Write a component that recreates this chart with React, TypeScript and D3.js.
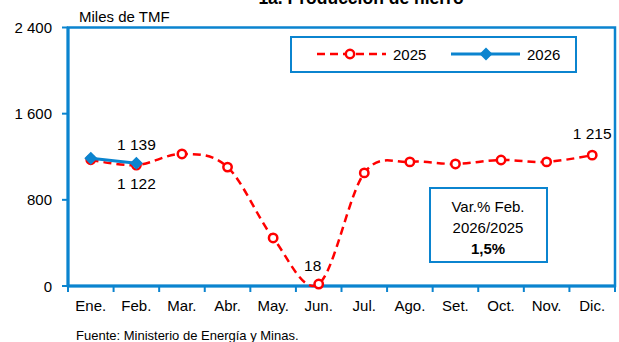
import React from "react";
import * as d3 from "d3";

const months = ["Ene.", "Feb.", "Mar.", "Abr.", "May.", "Jun.", "Jul.", "Ago.", "Set.", "Oct.", "Nov.", "Dic."];
const values2025 = [1172, 1122, 1226, 1104, 446, 18, 1050, 1152, 1133, 1170, 1152, 1215];
const values2026 = [1186, 1139];
const yTicks = [0, 800, 1600, 2400];

const W = 619;
const H = 342;
const BLUE = "#0b84cf";
const RED = "#ff0000";
const FONT = "'Liberation Sans', Arial, sans-serif";

export default function App() {
  const left = 68, right = 615, top = 27.5, bottom = 286;
  const x = d3.scaleBand<string>().domain(months).range([left, right]);
  const y = d3.scaleLinear().domain([0, 2400]).range([bottom, top]);
  const cx = (i: number) => (x(months[i]) as number) + x.bandwidth() / 2;
  const fmt = (v: number) => d3.format(",")(v).replace(/,/g, " ");

  const line = d3
    .line<number>()
    .x((_, i) => cx(i))
    .y((d) => y(d))
    .curve(d3.curveCatmullRom.alpha(0));
  const line26 = d3
    .line<number>()
    .x((_, i) => cx(i))
    .y((d) => y(d));

  const diamond = (px: number, py: number, s: number) =>
    `M${px},${py - s}L${px + s},${py}L${px},${py + s}L${px - s},${py}Z`;

  const boundaries = months.map((m) => x(m) as number).concat([right]);

  return (
    <svg width={W} height={H} style={{ position: "absolute", left: 0, top: 0, fontFamily: FONT }}>
      <rect width={W} height={H} fill="#fff" />
      <text x={361} y={4} textAnchor="middle" fontSize={17.5} fontWeight="bold" fill="#000">
        1a. Producción de hierro
      </text>
      <text x={79} y={22} fontSize={15} fill="#000">Miles de TMF</text>

      {/* plot frame */}
      <rect x={left} y={top} width={right - left} height={bottom - top} fill="none" stroke={BLUE} strokeWidth={2.5} />
      <line x1={left} x2={left} y1={top} y2={bottom} stroke={BLUE} strokeWidth={3} />
      <line x1={left} x2={right} y1={bottom} y2={bottom} stroke={BLUE} strokeWidth={3} />

      {/* y ticks */}
      {yTicks.map((t) => (
        <g key={t}>
          <line x1={62} x2={left} y1={y(t)} y2={y(t)} stroke={BLUE} strokeWidth={2} />
          <text x={52} y={y(t) + 5.5} textAnchor="end" fontSize={15} fill="#000">
            {fmt(t)}
          </text>
        </g>
      ))}

      {/* x ticks */}
      {boundaries.map((b, i) => (
        <line key={i} x1={b} x2={b} y1={bottom} y2={bottom + 6} stroke={BLUE} strokeWidth={2} />
      ))}
      {months.map((m, i) => (
        <text key={m} x={cx(i)} y={311} textAnchor="middle" fontSize={15} fill="#000">
          {m}
        </text>
      ))}

      {/* 2025 series */}
      <path d={line(values2025) || ""} fill="none" stroke={RED} strokeWidth={2.5} strokeDasharray="8,5" />
      {values2025.map((v, i) => (
        <circle key={i} cx={cx(i)} cy={y(v)} r={4.2} fill="#fff" stroke={RED} strokeWidth={2.5} />
      ))}

      {/* 2026 series */}
      <path d={line26(values2026) || ""} fill="none" stroke={BLUE} strokeWidth={3} />
      {values2026.map((v, i) => (
        <path key={i} d={diamond(cx(i), y(v), 6.5)} fill={BLUE} />
      ))}

      {/* data labels */}
      <text x={cx(1)} y={y(values2026[1]) - 13} textAnchor="middle" fontSize={15.5} fill="#000">
        {fmt(values2026[1])}
      </text>
      <text x={cx(1)} y={y(values2025[1]) + 24} textAnchor="middle" fontSize={15.5} fill="#000">
        {fmt(values2025[1])}
      </text>
      <text x={cx(5) - 6} y={y(values2025[5]) - 13} textAnchor="middle" fontSize={15.5} fill="#000">
        {fmt(values2025[5])}
      </text>
      <text x={cx(11)} y={y(values2025[11]) - 16} textAnchor="middle" fontSize={15.5} fill="#000">
        {fmt(values2025[11])}
      </text>

      {/* legend */}
      <rect x={291} y={37} width={285} height={35} fill="#fff" stroke={BLUE} strokeWidth={2} />
      <line x1={317} x2={386} y1={54} y2={54} stroke={RED} strokeWidth={2.5} strokeDasharray="8,5" />
      <circle cx={350} cy={54} r={4.2} fill="#fff" stroke={RED} strokeWidth={2.5} />
      <text x={393} y={59.5} fontSize={15} fill="#000">2025</text>
      <line x1={451} x2={520} y1={54} y2={54} stroke={BLUE} strokeWidth={3} />
      <path d={diamond(486, 54, 6.5)} fill={BLUE} />
      <text x={527} y={59.5} fontSize={15} fill="#000">2026</text>

      {/* annotation */}
      <rect x={430} y={188} width={117} height={74} fill="#fff" stroke={BLUE} strokeWidth={2} />
      <text x={488} y={212} textAnchor="middle" fontSize={15} fill="#000">Var.% Feb.</text>
      <text x={488} y={233} textAnchor="middle" fontSize={15} fill="#000">2026/2025</text>
      <text x={488} y={254} textAnchor="middle" fontSize={15} fontWeight="bold" fill="#000">1,5%</text>

      <text x={76} y={340} fontSize={13} fill="#000">Fuente: Ministerio de Energía y Minas.</text>
    </svg>
  );
}
